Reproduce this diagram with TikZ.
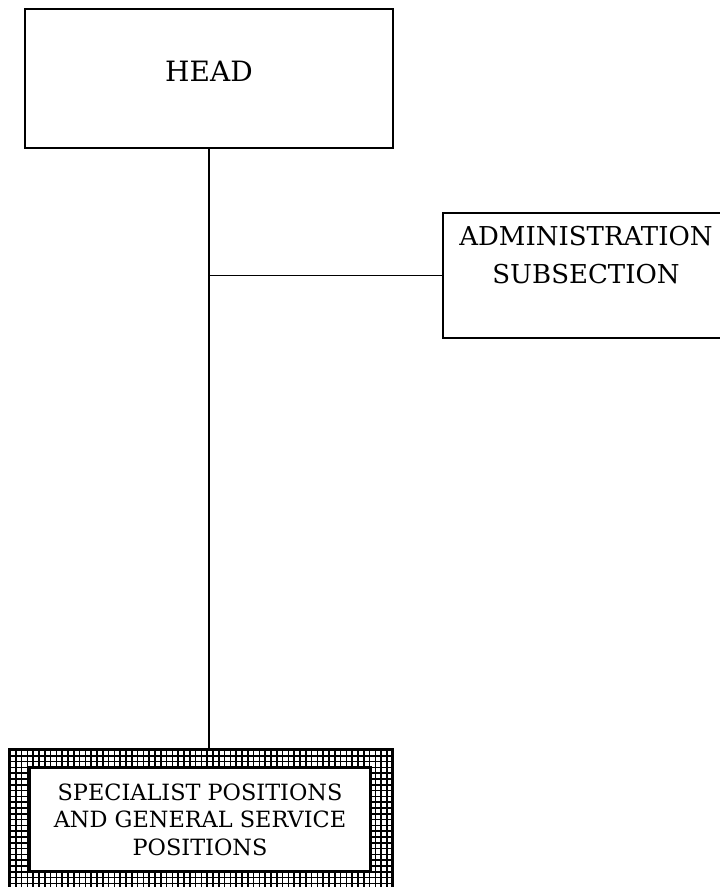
\documentclass[tikz,border=0pt]{standalone}
\usepackage{fontspec}
\setmainfont{DejaVu Serif}
\tikzset{
  unitbox/.style={draw, line width=1.1pt, inner sep=0pt, align=center},
  headbox/.style={unitbox, minimum width=276pt, minimum height=104.25pt,
    text depth=10.75pt, font=\fontsize{21}{28.5}\selectfont},
  adminbox/.style={unitbox, minimum width=225pt, minimum height=93.75pt,
    text depth=31.5pt, font=\fontsize{19.5}{28.5}\selectfont},
  staffbox/.style={unitbox, line width=1.5pt, minimum width=255pt, minimum height=77.25pt,
    font=\fontsize{16.8}{20.6}\selectfont},
  framebox/.style={draw, line width=1.6pt, inner sep=0pt, minimum width=286.5pt, minimum height=104.25pt},
  hatch/.style={line width=1.2pt},
  link/.style={line width=1.1pt}
}
\begin{document}
\begin{tikzpicture}[x=0.75pt, y=-0.75pt]
  \useasboundingbox (0,0) rectangle (719,887);
  \node[headbox] at (209,78.5) (head) {HEAD};
  \node[adminbox] at (593,275.5) (admin) {\hspace*{-10.5pt}ADMINISTRATION\\\hspace*{-10.5pt}SUBSECTION};
  \node[framebox] at (201,819.5) (frame) {};
  \node[staffbox] at (200,819.5) (staff) {SPECIALIST POSITIONS\\AND GENERAL SERVICE\\POSITIONS};
  % grid hatching in the frame round the staff box
  \begin{scope}[even odd rule]
    \clip (frame.north west) rectangle (frame.south east)
      (staff.north west) rectangle (staff.south east);
    \foreach \x in {10,15.8,...,395} \draw[hatch] (\x,745) -- (\x,895);
    \foreach \y in {750,755.8,...,895} \draw[hatch] (5,\y) -- (397,\y);
  \end{scope}
  \draw[line width=1.6pt] (frame.north west) rectangle (frame.south east);
  \draw[line width=1.6pt] (staff.north west) rectangle (staff.south east);
  \draw[link] (head.south) -- (head.south |- frame.north);
  \draw[link] (head.south |- admin.west) -- (admin.west);
\end{tikzpicture}
\end{document}
